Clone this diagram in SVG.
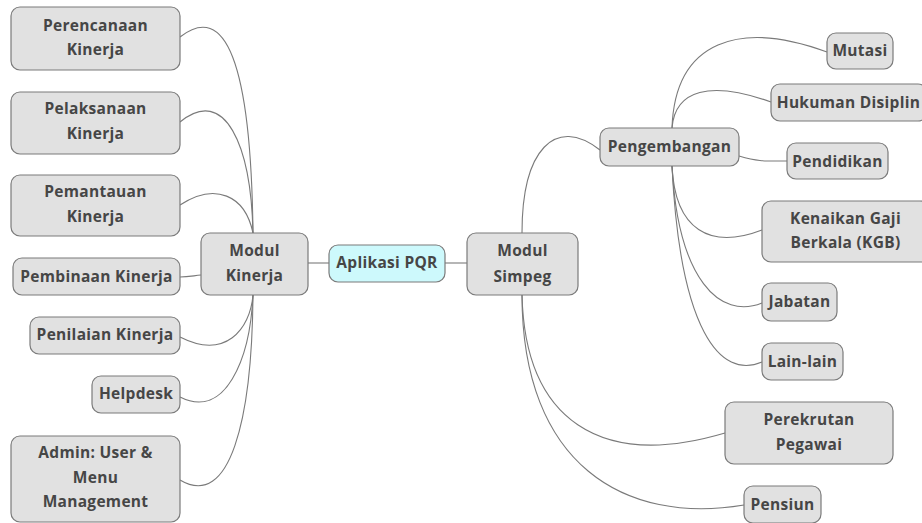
<svg xmlns="http://www.w3.org/2000/svg" width="922" height="523" viewBox="0 0 922 523">
<style>
.n rect{fill:#e1e1e1;stroke:#7b7b7b;stroke-width:1.2}
.c rect{fill:#cdf9fc;stroke:#7b7b7b;stroke-width:1.2}
text{font-family:"Open Sans","Noto Sans","DejaVu Sans",sans-serif;font-weight:bold;font-size:15.5px;letter-spacing:0.3px;fill:#464646;text-anchor:middle}
#edges path{fill:none;stroke:#7a7a7a;stroke-width:1.1}
</style>
<rect width="922" height="523" fill="#fff"/>
<g id="edges">
<path d="M308,263 H329"/>
<path d="M445,263 H467"/>
<path d="M253,233 C251,60 225,2 180,37"/>
<path d="M253,233 C251,145 225,85 180,122"/>
<path d="M253,233 C245,195 215,182 180,205"/>
<path d="M201,275 C192,276 188,277 180,277"/>
<path d="M253,295 C250,330 225,360 180,337"/>
<path d="M253,295 C250,360 225,420 180,397"/>
<path d="M253,295 C252,420 230,510 180,480"/>
<path d="M522,233 C522,150 555,115 600,150"/>
<path d="M522,295 C525,420 600,470 725,433"/>
<path d="M522,295 C522,465 625,525 744,505"/>
<path d="M672,128 C675,40 740,20 827,52"/>
<path d="M672,128 C675,90 710,80 771,102"/>
<path d="M739,156 C760,162 765,161 787,161"/>
<path d="M672,166 C675,230 710,250 762,230"/>
<path d="M672,166 C678,280 720,320 762,303"/>
<path d="M672,166 C680,330 720,380 762,362"/>
</g>
<g id="perencanaan" class="n"><rect x="11" y="7" width="169" height="63" rx="9"/><text x="95.5" y="31">Perencanaan</text><text x="95.5" y="55">Kinerja</text></g>
<g id="pelaksanaan" class="n"><rect x="11" y="92" width="169" height="62" rx="9"/><text x="95.5" y="114">Pelaksanaan</text><text x="95.5" y="139">Kinerja</text></g>
<g id="pemantauan" class="n"><rect x="11" y="175" width="169" height="61" rx="9"/><text x="95.5" y="197">Pemantauan</text><text x="95.5" y="222">Kinerja</text></g>
<g id="pembinaan" class="n"><rect x="13" y="258" width="167" height="37" rx="9"/><text x="96.5" y="282">Pembinaan Kinerja</text></g>
<g id="penilaian" class="n"><rect x="30" y="317" width="150" height="37" rx="9"/><text x="105" y="340">Penilaian Kinerja</text></g>
<g id="helpdesk" class="n"><rect x="92" y="376" width="88" height="37" rx="9"/><text x="136" y="399">Helpdesk</text></g>
<g id="admin" class="n"><rect x="11" y="436" width="169" height="86" rx="9"/><text x="95.5" y="458">Admin: User &amp;</text><text x="95.5" y="483">Menu</text><text x="95.5" y="507">Management</text></g>
<g id="modul-kinerja" class="n"><rect x="201" y="233" width="107" height="62" rx="9"/><text x="254.5" y="256">Modul</text><text x="254.5" y="281">Kinerja</text></g>
<g id="aplikasi" class="c"><rect x="329" y="245" width="116" height="37" rx="9"/><text x="387" y="268">Aplikasi PQR</text></g>
<g id="modul-simpeg" class="n"><rect x="467" y="233" width="111" height="62" rx="9"/><text x="522.5" y="256">Modul</text><text x="522.5" y="282">Simpeg</text></g>
<g id="pengembangan" class="n"><rect x="600" y="128" width="139" height="38" rx="9"/><text x="669.5" y="152">Pengembangan</text></g>
<g id="mutasi" class="n"><rect x="827" y="33" width="66" height="36" rx="9"/><text x="860" y="56">Mutasi</text></g>
<g id="hukuman" class="n"><rect x="771" y="84" width="156" height="37" rx="9"/><text x="848.5" y="108">Hukuman Disiplin</text></g>
<g id="pendidikan" class="n"><rect x="787" y="143" width="101" height="36" rx="9"/><text x="837.5" y="167">Pendidikan</text></g>
<g id="kgb" class="n"><rect x="762" y="201" width="167" height="61" rx="9"/><text x="845.5" y="224">Kenaikan Gaji</text><text x="845.5" y="248">Berkala (KGB)</text></g>
<g id="jabatan" class="n"><rect x="762" y="283" width="75" height="38" rx="9"/><text x="799.5" y="307">Jabatan</text></g>
<g id="lain" class="n"><rect x="762" y="343" width="81" height="37" rx="9"/><text x="802.5" y="367">Lain-lain</text></g>
<g id="perekrutan" class="n"><rect x="725" y="402" width="168" height="62" rx="9"/><text x="809" y="425">Perekrutan</text><text x="809" y="450">Pegawai</text></g>
<g id="pensiun" class="n"><rect x="744" y="486" width="77" height="37" rx="9"/><text x="782.5" y="510">Pensiun</text></g>
</svg>
